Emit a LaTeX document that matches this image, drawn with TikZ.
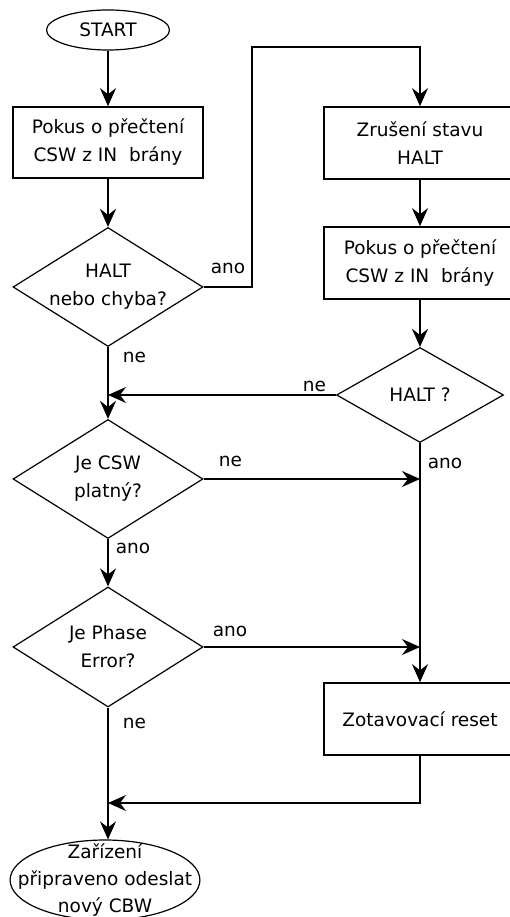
\documentclass[tikz,border=0pt]{standalone}
\usepackage{fontspec}
\setmainfont{DejaVu Sans}
\usetikzlibrary{shapes.geometric,arrows.meta}

\tikzset{every picture/.style={line width=1.6pt}}
\tikzset{
  termnode/.style={ellipse, draw, inner xsep=-20pt, inner ysep=-12pt, align=center, line width=1.2pt},
  procbox/.style={rectangle, draw, minimum width=190pt, minimum height=71pt, inner sep=0pt, align=center},
  decision/.style={diamond, draw, aspect=1.6, inner sep=-6pt, minimum width=190pt, minimum height=119pt, align=center, line width=1.2pt},
  tag/.style={anchor=base west, inner sep=0pt},
  flow/.style={-{Stealth[length=18pt,width=16pt,inset=6pt]}}
}

\begin{document}
\begin{tikzpicture}[x=1pt,y=1pt,yscale=-1,font=\fontsize{18.5}{28}\selectfont]
    \useasboundingbox (0,0) rectangle (509,917);

    %Shape: Ellipse
    \node[termnode, minimum width=123pt, minimum height=40pt] (start) at (108,30) {START};
    %Shape: Rectangle
    \node[procbox] (read1) at (108,142.5) {Pokus o přečtení\\CSW z IN\ \ brány};
    %Shape: Diamond
    \node[decision] (haltq1) at (108,287) {HALT\\nebo chyba?};
    %Shape: Diamond
    \node[decision] (cswq) at (108,479) {Je CSW\\platný?};
    %Shape: Diamond
    \node[decision, minimum height=120pt] (phaseq) at (108,647) {Je Phase\\Error?};
    %Shape: Ellipse
    \node[termnode, minimum width=185pt, minimum height=80pt, font=\fontsize{18.5}{27}\selectfont] (ready) at (105,880) {Zařízení\\připraveno odeslat\\nový CBW};

    %Shape: Rectangle
    \node[procbox, minimum width=192pt, minimum height=72pt] (clear) at (420,143) {Zrušení stavu\\HALT};
    %Shape: Rectangle
    \node[procbox, minimum width=192pt, minimum height=72pt] (read2) at (420,263) {Pokus o přečtení\\CSW z IN\ \ brány};
    %Shape: Diamond
    \node[decision, minimum width=167pt, minimum height=95pt, aspect=1.76] (haltq2) at (420,395) {HALT ?};
    %Shape: Rectangle
    \node[procbox, minimum width=192pt, minimum height=72pt] (reset) at (420,719) {Zotavovací reset};

    \coordinate (up) at (252,47);
    \coordinate (merge) at (108,803);

    %Straight Lines
    \draw[flow] (start) -- (read1);
    \draw[flow] (read1) -- (haltq1);
    \draw[flow] (haltq1.east) -| (up) -| (clear.north);
    \draw[flow] (clear) -- (read2);
    \draw[flow] (read2) -- (haltq2);
    \draw[flow] (haltq2.west) -- (haltq2.west -| haltq1.south);
    \draw[flow] (haltq1) -- (cswq);
    \draw[flow] (haltq2.south) -- (reset.north);
    \draw[flow] (cswq.east) -- (cswq.east -| reset.north);
    \draw[flow] (cswq) -- (phaseq);
    \draw[flow] (phaseq.east) -- (phaseq.east -| reset.north);
    \draw[flow] (phaseq.south) -- (phaseq.south |- ready.north);
    \draw[flow] (reset.south) |- (merge);

    % Text Node
    \node[tag] (yes1) at (210,273) {ano};
    % Text Node
    \node[tag] (no1) at (122,362) {ne};
    % Text Node
    \node[tag] (no2) at (302,391) {ne};
    % Text Node
    \node[tag] (yes2) at (427,468) {ano};
    % Text Node
    \node[tag] (no3) at (218,466) {ne};
    % Text Node
    \node[tag] (yes3) at (115,553) {ano};
    % Text Node
    \node[tag] (yes4) at (212,636) {ano};
    % Text Node
    \node[tag] (no4) at (122,728) {ne};

\end{tikzpicture}
\end{document}
